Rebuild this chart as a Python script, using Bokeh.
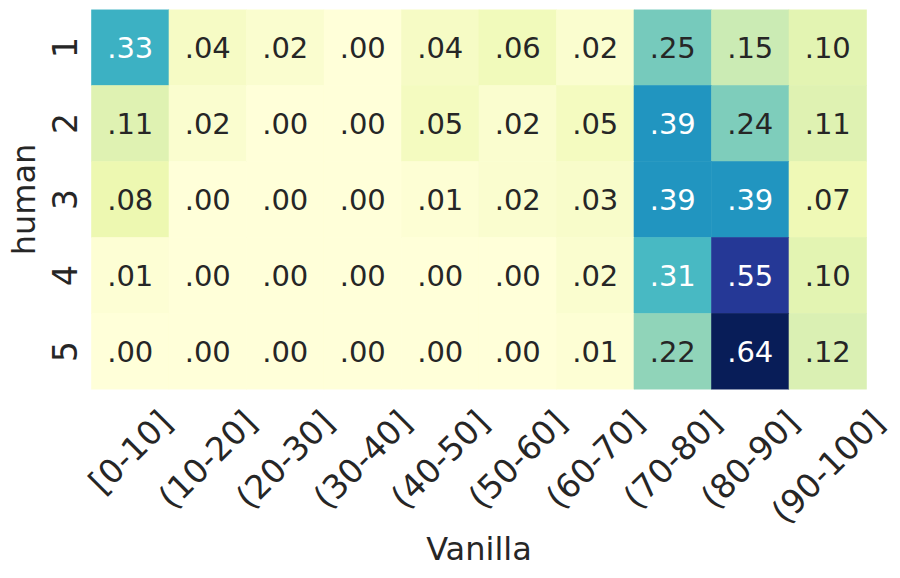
import math
import numpy as np
from bokeh.plotting import figure
from bokeh.models import (ColumnDataSource, LinearColorMapper, Range1d, FixedTicker,
                          LinearAxis)
from bokeh.embed import file_html
from bokeh.resources import INLINE
from bokeh.core.properties import value

x_labels = ["[0-10]", "(10-20]", "(20-30]", "(30-40]", "(40-50]",
            "(50-60]", "(60-70]", "(70-80]", "(80-90]", "(90-100]"]
y_labels = ["1", "2", "3", "4", "5"]
row_1 = [0.33, 0.04, 0.02, 0.00, 0.04, 0.06, 0.02, 0.25, 0.15, 0.10]
row_2 = [0.11, 0.02, 0.00, 0.00, 0.05, 0.02, 0.05, 0.39, 0.24, 0.11]
row_3 = [0.08, 0.00, 0.00, 0.00, 0.01, 0.02, 0.03, 0.39, 0.39, 0.07]
row_4 = [0.01, 0.00, 0.00, 0.00, 0.00, 0.00, 0.02, 0.31, 0.55, 0.10]
row_5 = [0.00, 0.00, 0.00, 0.00, 0.00, 0.00, 0.01, 0.22, 0.64, 0.12]
x_title = "Vanilla"
y_title = "human"

rows = [row_1, row_2, row_3, row_4, row_5]
FONT = "DejaVu Sans"
DARK = "#262626"

# YlGnBu colormap (9 anchor colours, linearly interpolated to 256)
anchors = ["#ffffd9", "#edf8b1", "#c7e9b4", "#7fcdbb", "#41b6c4",
           "#1d91c0", "#225ea8", "#253494", "#081d58"]
rgb = np.array([[int(c[i:i + 2], 16) for i in (1, 3, 5)] for c in anchors], float)
pos = np.linspace(0, 1, len(anchors))
t = np.linspace(0, 1, 256)
pal_rgb = np.stack([np.interp(t, pos, rgb[:, k]) for k in range(3)], axis=1)
palette = ["#%02x%02x%02x" % tuple(int(round(v)) for v in c) for c in pal_rgb]

vmin = min(min(r) for r in rows)
vmax = max(max(r) for r in rows)
mapper = LinearColorMapper(palette=palette, low=vmin, high=vmax)


def lum(c):
    vals = []
    for v in c / 255.0:
        vals.append(v / 12.92 if v <= 0.03928 else ((v + 0.055) / 1.055) ** 2.4)
    return 0.2126 * vals[0] + 0.7152 * vals[1] + 0.0722 * vals[2]


xs, ys, vs, txt, tcol = [], [], [], [], []
for ri, r in enumerate(rows):
    for ci, v in enumerate(r):
        xs.append(ci)
        ys.append(int(y_labels[ri]))
        vs.append(v)
        txt.append(("%.2f" % v)[1:] if v < 1 else "%.2f" % v)
        idx = int(round((v - vmin) / (vmax - vmin) * 255))
        tcol.append("white" if lum(pal_rgb[idx]) < 0.408 else DARK)

src = ColumnDataSource(dict(x=xs, y=ys, v=vs, t=txt, c=tcol))

ncol = len(x_labels)
COL_PX = 77.5            # width of one heatmap column on screen
PAD_PX = 13              # blank frame space on both sides of the heatmap
pad = PAD_PX / COL_PX
x_start = -0.5 - pad
x_end = ncol - 0.5 + pad

p = figure(width=892, height=570,
           x_range=Range1d(x_start, x_end),
           y_range=Range1d(len(y_labels) + 0.5, 0.5),
           x_axis_location=None,
           output_backend="svg", toolbar_location=None,
           min_border_left=91 - PAD_PX, min_border_right=13,
           min_border_top=9, min_border_bottom=176)
p.outline_line_color = None
p.grid.visible = False
p.background_fill_color = "white"

p.rect(x="x", y="y", width=1, height=1, source=src,
       fill_color={"field": "v", "transform": mapper},
       line_color={"field": "v", "transform": mapper}, line_width=0.6)
p.text(x="x", y="y", text="t", source=src, text_color="c",
       text_align="center", text_baseline="middle",
       text_font=value(FONT), text_font_size="29px")

# y axis
p.yaxis.ticker = FixedTicker(ticks=[int(s) for s in y_labels])
p.yaxis.major_label_overrides = {int(s): s for s in y_labels}
p.yaxis.major_label_orientation = "vertical"
p.yaxis.major_label_text_font = FONT
p.yaxis.major_label_text_font_size = "33px"
p.yaxis.major_label_text_color = DARK
p.yaxis.major_label_standoff = 15 - PAD_PX
p.yaxis.axis_label = y_title
p.yaxis.axis_label_text_font = FONT
p.yaxis.axis_label_text_font_size = "32px"
p.yaxis.axis_label_text_font_style = "normal"
p.yaxis.axis_label_text_color = DARK
p.yaxis.axis_label_standoff = 6

# x axis: Bokeh anchors a rotated label at its right end; shift each tick so
# the label ends up centred on its column, as matplotlib draws it.
FS = 33
widths = {"[": 0.390, "]": 0.390, "(": 0.390, ")": 0.390, "-": 0.361}
SCALE = 100  # extra range in hundredths of a column
p.extra_x_ranges = {"lab": Range1d(x_start * SCALE, x_end * SCALE)}
ticks, overrides = [], {}
for i, s in enumerate(x_labels):
    W = sum(widths.get(ch, 0.636) for ch in s) * FS
    tk = int(round((i + 0.3536 * W / COL_PX) * SCALE))
    ticks.append(tk)
    overrides[tk] = s
xax = LinearAxis(x_range_name="lab", ticker=FixedTicker(ticks=ticks),
                 major_label_overrides=overrides,
                 major_label_orientation=math.pi / 4,
                 major_label_text_font=FONT, major_label_text_font_size="33px",
                 major_label_text_color=DARK, major_label_standoff=27,
                 axis_label=x_title, axis_label_text_font=FONT,
                 axis_label_text_font_size="32px",
                 axis_label_text_font_style="normal",
                 axis_label_text_color=DARK, axis_label_standoff=-18)
p.add_layout(xax, "below")

for ax in (xax, p.yaxis[0]):
    ax.axis_line_color = None
    ax.major_tick_line_color = None
    ax.minor_tick_line_color = None
    ax.major_tick_out = 0
    ax.major_tick_in = 0

open("out.html", "w").write(file_html(p, INLINE))
